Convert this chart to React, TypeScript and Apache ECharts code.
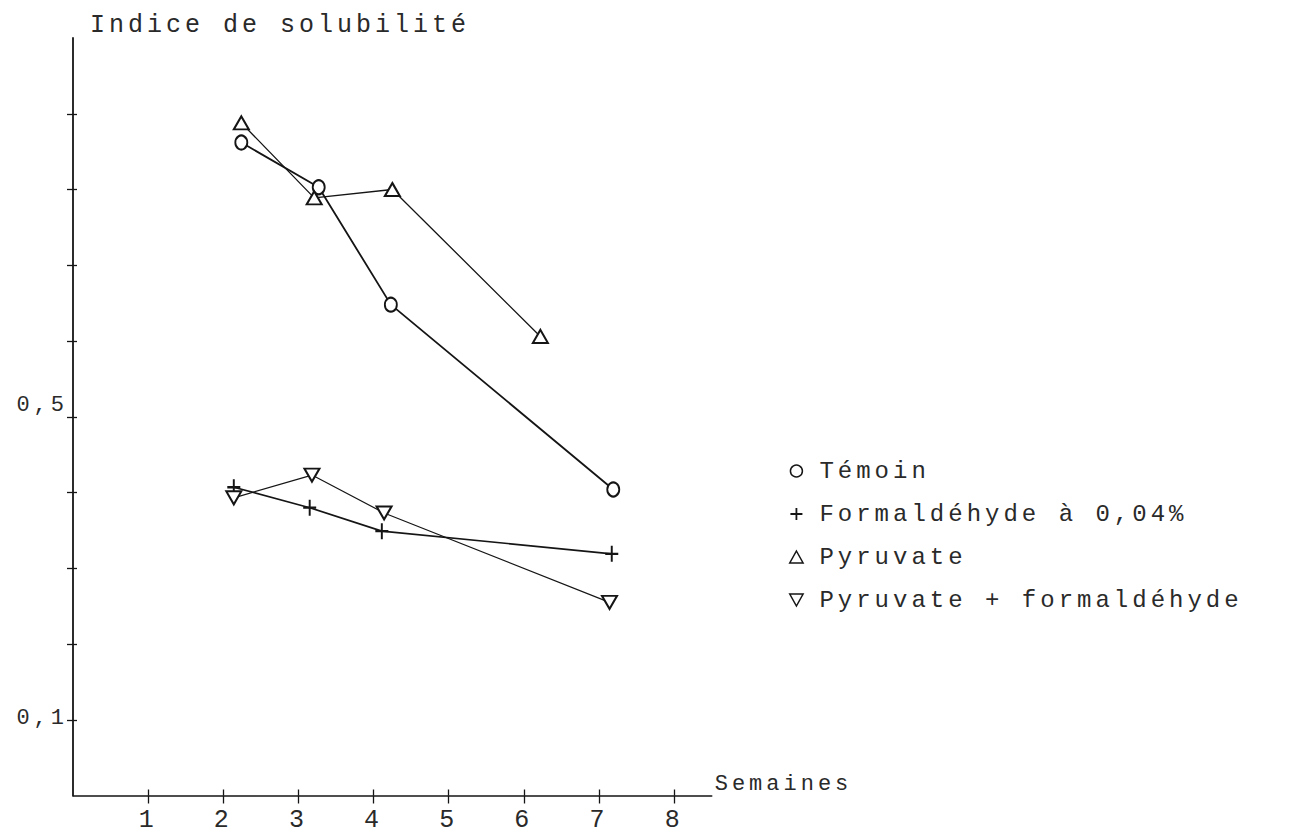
import React, { useEffect, useRef } from "react";
import * as echarts from "echarts";

// ---- data ----
const xTicks = [1, 2, 3, 4, 5, 6, 7, 8];
const yTicks = [0.1, 0.2, 0.3, 0.4, 0.5, 0.6, 0.7, 0.8, 0.9];
const yLabels = [0.1, 0.5];

const temoinX = [2.24, 3.27, 4.23, 7.19];
const temoinY = [0.862, 0.803, 0.648, 0.404];

const formolX = [2.14, 3.15, 4.11, 7.17];
const formolY = [0.407, 0.38, 0.349, 0.319];

const pyruvateX = [2.24, 3.21, 4.25, 6.22];
const pyruvateY = [0.888, 0.789, 0.8, 0.606];

const pyrFormolX = [2.14, 3.18, 4.14, 7.14];
const pyrFormolY = [0.393, 0.423, 0.373, 0.255];

const seriesNames = [
  "Témoin",
  "Formaldéhyde à 0,04%",
  "Pyruvate",
  "Pyruvate + formaldéhyde",
];

const INK = "#151515";
const TXT = "#2a2a2a";
const FONT = "'Liberation Mono', 'DejaVu Sans Mono', monospace";
const PLUS = "path://M4.25,0H5.75V4.25H10V5.75H5.75V10H4.25V5.75H0V4.25H4.25Z";
const UP_TRI = "path://M5,0L10,9L0,9Z";
const DOWN_TRI = "path://M0,0L10,0L5,9Z";

const pairs = (xs: number[], ys: number[]) => xs.map((x, i) => [x, ys[i]]);
const fmtY = (v: number) => v.toFixed(1).replace(".", ",");

export default function App() {
  const ref = useRef<HTMLDivElement>(null);

  useEffect(() => {
    if (!ref.current) return;
    const chart = echarts.init(ref.current, null, { renderer: "svg" });

    const baseLine = (name: string, data: number[][], extra: any) => ({
      name,
      type: "line",
      data,
      lineStyle: { color: INK, width: 1.5 },
      itemStyle: { color: INK, borderColor: INK, borderWidth: 1.6 },
      emphasis: { disabled: true },
      z: 3,
      ...extra,
    });

    const hollow = { color: "#ffffff", borderColor: INK, borderWidth: 1.5 };

    chart.setOption({
      animation: false,
      backgroundColor: "#ffffff",
      title: {
        text: "Indice de solubilité",
        left: 85,
        top: 8,
        textStyle: {
          fontFamily: FONT,
          fontSize: 25,
          fontWeight: "normal",
          color: TXT,
        },
      },
      legend: {
        orient: "vertical",
        left: 784,
        top: 454,
        itemGap: 19,
        itemWidth: 36,
        itemHeight: 12,
        selectedMode: false,
        textStyle: { fontFamily: FONT, fontSize: 24, lineHeight: 24, color: TXT },
        data: [
          { name: seriesNames[0], icon: "circle", itemStyle: hollow },
          { name: seriesNames[1], icon: PLUS, itemStyle: { color: INK, borderWidth: 0 } },
          { name: seriesNames[2], icon: UP_TRI, itemStyle: hollow },
          { name: seriesNames[3], icon: DOWN_TRI, itemStyle: hollow },
        ],
      },
      grid: { left: 73, top: 38, width: 638.7, height: 757.5, containLabel: false },
      xAxis: [
        {
          type: "value",
          min: 0,
          max: 8.5,
          position: "bottom",
          axisLine: { onZero: false, lineStyle: { color: INK, width: 1.6 } },
          axisTick: { customValues: xTicks, length: 8, lineStyle: { color: INK, width: 1.3 } },
          axisLabel: {
            customValues: xTicks,
            margin: 12,
            fontFamily: FONT,
            fontSize: 25,
            color: TXT,
          },
          splitLine: { show: false },
          name: "Semaines",
          nameLocation: "end",
          nameGap: 3,
          nameTextStyle: {
            fontFamily: FONT,
            fontSize: 22,
            color: TXT,
            verticalAlign: "bottom",
            align: "left",
          },
        },
        {
          type: "value",
          min: 0,
          max: 8.5,
          position: "bottom",
          axisLine: { show: false, onZero: false },
          axisTick: { inside: true, customValues: xTicks, length: 6, lineStyle: { color: INK, width: 1.3 } },
          axisLabel: { show: false },
          splitLine: { show: false },
        },
      ],
      yAxis: [
        {
          type: "value",
          min: 0,
          max: 1.0,
          position: "left",
          axisLine: { show: true, onZero: false, lineStyle: { color: INK, width: 1.8 } },
          axisTick: { show: true, customValues: yTicks, length: 6, lineStyle: { color: INK, width: 1.3 } },
          axisLabel: {
            customValues: yLabels,
            margin: 5,
            fontFamily: FONT,
            fontSize: 22,
            color: TXT,
            formatter: (v: number) =>
              v > 0.3 ? `{hi|${fmtY(v)}}` : `{lo|${fmtY(v)}}`,
            rich: {
              hi: { fontFamily: FONT, fontSize: 22, color: TXT, padding: [0, 0, 22, 0] },
              lo: { fontFamily: FONT, fontSize: 22, color: TXT, padding: [0, 0, 2, 0] },
            },
          },
          splitLine: { show: false },
        },
        {
          type: "value",
          min: 0,
          max: 1.0,
          position: "left",
          axisLine: { show: false, onZero: false },
          axisTick: { show: true, inside: true, customValues: yTicks, length: 4, lineStyle: { color: INK, width: 1.3 } },
          axisLabel: { show: false },
          splitLine: { show: false },
        },
      ],
      series: [
        baseLine(seriesNames[0], pairs(temoinX, temoinY), {
          symbol: "emptyCircle",
          symbolSize: [12, 14],
          lineStyle: { color: INK, width: 1.8 },
        }),
        baseLine(seriesNames[1], pairs(formolX, formolY), {
          symbol: PLUS,
          symbolSize: [13, 16],
          itemStyle: { color: INK, borderWidth: 0 },
          lineStyle: { color: INK, width: 1.6 },
        }),
        baseLine(seriesNames[2], pairs(pyruvateX, pyruvateY), {
          symbol: "emptyTriangle",
          symbolSize: [15, 13],
          lineStyle: { color: INK, width: 1.3 },
        }),
        baseLine(seriesNames[3], pairs(pyrFormolX, pyrFormolY), {
          symbol: "emptyTriangle",
          symbolRotate: 180,
          symbolSize: [15, 13],
          lineStyle: { color: INK, width: 1.2 },
        }),
      ],
    });

    return () => chart.dispose();
  }, []);

  return (
    <>
      <style>{"#chart-root svg text { letter-spacing: 4px; }"}</style>
      <div
        id="chart-root"
        ref={ref}
        style={{
          position: "fixed",
          left: 0,
          top: 0,
          width: 1301,
          height: 836,
          background: "#ffffff",
        }}
      />
    </>
  );
}
